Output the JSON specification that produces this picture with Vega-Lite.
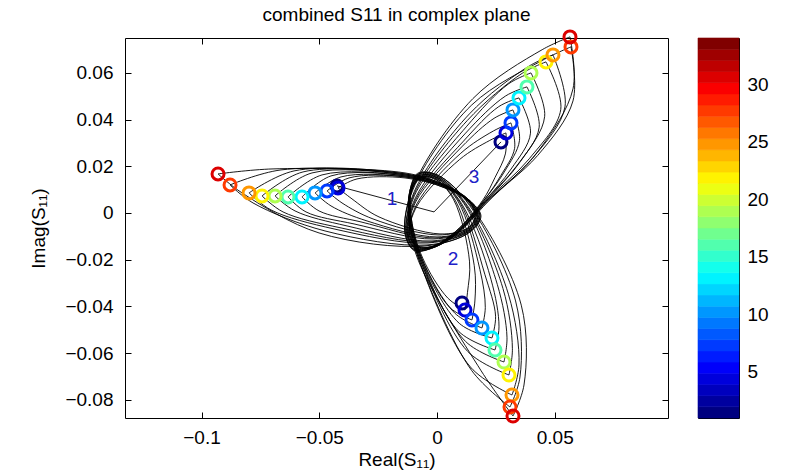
{
"$schema":"https://vega.github.io/schema/vega-lite/v6.json",
"padding":{"left":29,"top":5,"right":5,"bottom":5},
"config":{"font":"Liberation Sans","view":{"stroke":"#000","strokeWidth":1},
"axis":{"grid":false,"domain":false,"tickColor":"#000","labelColor":"#000","titleColor":"#000","labelFont":"Liberation Sans","titleFont":"Liberation Sans","labelFontSize":19,"titleFontSize":19,"titleFontWeight":"normal","tickWidth":1}},
"datasets":{
"loops":[
{"k":"1-4","i":0,"x":-0.04204,"y":0.01071},{"k":"1-4","i":1,"x":-0.03397,"y":0.01456},{"k":"1-4","i":2,"x":-0.01359,"y":0.01499},{"k":"1-4","i":3,"x":0.0034,"y":0.01071},{"k":"1-4","i":4,"x":0.01359,"y":0.00471},{"k":"1-4","i":5,"x":0.01613,"y":-0.00128},{"k":"1-4","i":6,"x":0.01316,"y":-0.00642},{"k":"1-4","i":7,"x":0.00127,"y":-0.00899},{"k":"1-4","i":8,"x":-0.02463,"y":-0.00171},{"k":"1-4","i":9,"x":-0.03609,"y":0.006},{"k":"1-4","i":10,"x":-0.04204,"y":0.01071},
{"k":"1-7","i":0,"x":-0.04671,"y":0.00942},{"k":"1-7","i":1,"x":-0.03736,"y":0.01499},{"k":"1-7","i":2,"x":-0.01359,"y":0.01542},{"k":"1-7","i":3,"x":0.0034,"y":0.01071},{"k":"1-7","i":4,"x":0.01359,"y":0.00471},{"k":"1-7","i":5,"x":0.01656,"y":-0.00128},{"k":"1-7","i":6,"x":0.01316,"y":-0.00642},{"k":"1-7","i":7,"x":0.00042,"y":-0.00942},{"k":"1-7","i":8,"x":-0.02717,"y":-0.00257},{"k":"1-7","i":9,"x":-0.04034,"y":0.00428},{"k":"1-7","i":10,"x":-0.04671,"y":0.00942},
{"k":"1-10","i":0,"x":-0.0518,"y":0.00857},{"k":"1-10","i":1,"x":-0.04076,"y":0.01542},{"k":"1-10","i":2,"x":-0.01359,"y":0.01542},{"k":"1-10","i":3,"x":0.0034,"y":0.01114},{"k":"1-10","i":4,"x":0.01359,"y":0.00471},{"k":"1-10","i":5,"x":0.01656,"y":-0.00128},{"k":"1-10","i":6,"x":0.01316,"y":-0.00685},{"k":"1-10","i":7,"x":0,"y":-0.01028},{"k":"1-10","i":8,"x":-0.02972,"y":-0.00343},{"k":"1-10","i":9,"x":-0.04501,"y":0.003},{"k":"1-10","i":10,"x":-0.0518,"y":0.00857},
{"k":"1-13","i":0,"x":-0.05732,"y":0.00685},{"k":"1-13","i":1,"x":-0.04501,"y":0.01585},{"k":"1-13","i":2,"x":-0.01359,"y":0.01585},{"k":"1-13","i":3,"x":0.0034,"y":0.01114},{"k":"1-13","i":4,"x":0.01359,"y":0.00514},{"k":"1-13","i":5,"x":0.01698,"y":-0.00128},{"k":"1-13","i":6,"x":0.01359,"y":-0.00685},{"k":"1-13","i":7,"x":-0.00085,"y":-0.01071},{"k":"1-13","i":8,"x":-0.03227,"y":-0.00385},{"k":"1-13","i":9,"x":-0.0501,"y":0.00086},{"k":"1-13","i":10,"x":-0.05732,"y":0.00685},
{"k":"1-16","i":0,"x":-0.06327,"y":0.00685},{"k":"1-16","i":1,"x":-0.04883,"y":0.01628},{"k":"1-16","i":2,"x":-0.01359,"y":0.01585},{"k":"1-16","i":3,"x":0.0034,"y":0.01114},{"k":"1-16","i":4,"x":0.01359,"y":0.00514},{"k":"1-16","i":5,"x":0.01741,"y":-0.00128},{"k":"1-16","i":6,"x":0.01359,"y":-0.00728},{"k":"1-16","i":7,"x":-0.0017,"y":-0.01114},{"k":"1-16","i":8,"x":-0.03524,"y":-0.00471},{"k":"1-16","i":9,"x":-0.05562,"y":0.00043},{"k":"1-16","i":10,"x":-0.06327,"y":0.00685},
{"k":"1-19","i":0,"x":-0.06879,"y":0.00728},{"k":"1-19","i":1,"x":-0.05308,"y":0.01713},{"k":"1-19","i":2,"x":-0.01359,"y":0.01628},{"k":"1-19","i":3,"x":0.0034,"y":0.01156},{"k":"1-19","i":4,"x":0.01359,"y":0.00514},{"k":"1-19","i":5,"x":0.01741,"y":-0.00128},{"k":"1-19","i":6,"x":0.01359,"y":-0.00728},{"k":"1-19","i":7,"x":-0.00212,"y":-0.01199},{"k":"1-19","i":8,"x":-0.03821,"y":-0.00557},{"k":"1-19","i":9,"x":-0.06029,"y":0.00086},{"k":"1-19","i":10,"x":-0.06879,"y":0.00728},
{"k":"1-22","i":0,"x":-0.07431,"y":0.00728},{"k":"1-22","i":1,"x":-0.0569,"y":0.01756},{"k":"1-22","i":2,"x":-0.01359,"y":0.01628},{"k":"1-22","i":3,"x":0.0034,"y":0.01156},{"k":"1-22","i":4,"x":0.01359,"y":0.00514},{"k":"1-22","i":5,"x":0.01783,"y":-0.00128},{"k":"1-22","i":6,"x":0.01359,"y":-0.00771},{"k":"1-22","i":7,"x":-0.00297,"y":-0.01242},{"k":"1-22","i":8,"x":-0.04076,"y":-0.00642},{"k":"1-22","i":9,"x":-0.06539,"y":0.00043},{"k":"1-22","i":10,"x":-0.07431,"y":0.00728},
{"k":"1-25","i":0,"x":-0.07982,"y":0.00857},{"k":"1-25","i":1,"x":-0.06072,"y":0.01799},{"k":"1-25","i":2,"x":-0.01359,"y":0.0167},{"k":"1-25","i":3,"x":0.0034,"y":0.01156},{"k":"1-25","i":4,"x":0.01359,"y":0.00557},{"k":"1-25","i":5,"x":0.01826,"y":-0.00128},{"k":"1-25","i":6,"x":0.01401,"y":-0.00771},{"k":"1-25","i":7,"x":-0.00382,"y":-0.01285},{"k":"1-25","i":8,"x":-0.04373,"y":-0.00685},{"k":"1-25","i":9,"x":-0.07048,"y":0.00128},{"k":"1-25","i":10,"x":-0.07982,"y":0.00857},
{"k":"1-28","i":0,"x":-0.08789,"y":0.01199},{"k":"1-28","i":1,"x":-0.06624,"y":0.01842},{"k":"1-28","i":2,"x":-0.01359,"y":0.0167},{"k":"1-28","i":3,"x":0.0034,"y":0.01199},{"k":"1-28","i":4,"x":0.01359,"y":0.00557},{"k":"1-28","i":5,"x":0.01826,"y":-0.00128},{"k":"1-28","i":6,"x":0.01401,"y":-0.00814},{"k":"1-28","i":7,"x":-0.00425,"y":-0.01371},{"k":"1-28","i":8,"x":-0.04756,"y":-0.00771},{"k":"1-28","i":9,"x":-0.07813,"y":0.00428},{"k":"1-28","i":10,"x":-0.08789,"y":0.01199},
{"k":"1-31","i":0,"x":-0.09299,"y":0.0167},{"k":"1-31","i":1,"x":-0.06963,"y":0.01885},{"k":"1-31","i":2,"x":-0.01359,"y":0.01713},{"k":"1-31","i":3,"x":0.0034,"y":0.01199},{"k":"1-31","i":4,"x":0.01359,"y":0.00557},{"k":"1-31","i":5,"x":0.01868,"y":-0.00128},{"k":"1-31","i":6,"x":0.01401,"y":-0.00814},{"k":"1-31","i":7,"x":-0.0051,"y":-0.01413},{"k":"1-31","i":8,"x":-0.0501,"y":-0.00857},{"k":"1-31","i":9,"x":-0.0828,"y":0.00857},{"k":"1-31","i":10,"x":-0.09299,"y":0.0167},
{"k":"2-4","i":0,"x":0.01189,"y":-0.04155},{"k":"2-4","i":1,"x":0.00454,"y":-0.03641},{"k":"2-4","i":2,"x":-0.00607,"y":-0.01936},{"k":"2-4","i":3,"x":-0.01091,"y":-0.0024},{"k":"2-4","i":4,"x":-0.01083,"y":0.00951},{"k":"2-4","i":5,"x":-0.00696,"y":0.01473},{"k":"2-4","i":6,"x":-0.00106,"y":0.01469},{"k":"2-4","i":7,"x":0.00709,"y":0.00561},{"k":"2-4","i":8,"x":0.0138,"y":-0.02064},{"k":"2-4","i":9,"x":0.01295,"y":-0.03401},{"k":"2-4","i":10,"x":0.01189,"y":-0.04155},
{"k":"2-7","i":0,"x":0.01486,"y":-0.04583},{"k":"2-7","i":1,"x":0.00539,"y":-0.04043},{"k":"2-7","i":2,"x":-0.00645,"y":-0.01957},{"k":"2-7","i":3,"x":-0.01091,"y":-0.0024},{"k":"2-7","i":4,"x":-0.01083,"y":0.00951},{"k":"2-7","i":5,"x":-0.00718,"y":0.01512},{"k":"2-7","i":6,"x":-0.00106,"y":0.01469},{"k":"2-7","i":7,"x":0.0079,"y":0.0051},{"k":"2-7","i":8,"x":0.0158,"y":-0.02244},{"k":"2-7","i":9,"x":0.01609,"y":-0.03769},{"k":"2-7","i":10,"x":0.01486,"y":-0.04583},
{"k":"2-10","i":0,"x":0.01911,"y":-0.04925},{"k":"2-10","i":1,"x":0.00769,"y":-0.04304},{"k":"2-10","i":2,"x":-0.00645,"y":-0.01957},{"k":"2-10","i":3,"x":-0.01125,"y":-0.00261},{"k":"2-10","i":4,"x":-0.01083,"y":0.00951},{"k":"2-10","i":5,"x":-0.00718,"y":0.01512},{"k":"2-10","i":6,"x":-0.00068,"y":0.0149},{"k":"2-10","i":7,"x":0.00883,"y":0.00514},{"k":"2-10","i":8,"x":0.01822,"y":-0.02424},{"k":"2-10","i":9,"x":0.02051,"y":-0.04052},{"k":"2-10","i":10,"x":0.01911,"y":-0.04925},
{"k":"2-13","i":0,"x":0.02335,"y":-0.05354},{"k":"2-13","i":1,"x":0.00947,"y":-0.04728},{"k":"2-13","i":2,"x":-0.00679,"y":-0.01979},{"k":"2-13","i":3,"x":-0.01125,"y":-0.00261},{"k":"2-13","i":4,"x":-0.01121,"y":0.00929},{"k":"2-13","i":5,"x":-0.00739,"y":0.01546},{"k":"2-13","i":6,"x":-0.00089,"y":0.01529},{"k":"2-13","i":7,"x":0.00964,"y":0.00463},{"k":"2-13","i":8,"x":0.0203,"y":-0.02625},{"k":"2-13","i":9,"x":0.02488,"y":-0.04424},{"k":"2-13","i":10,"x":0.02335,"y":-0.05354},
{"k":"2-16","i":0,"x":0.02463,"y":-0.05868},{"k":"2-16","i":1,"x":0.0093,"y":-0.0508},{"k":"2-16","i":2,"x":-0.00679,"y":-0.01979},{"k":"2-16","i":3,"x":-0.01125,"y":-0.00261},{"k":"2-16","i":4,"x":-0.01121,"y":0.00929},{"k":"2-16","i":5,"x":-0.0076,"y":0.01585},{"k":"2-16","i":6,"x":-0.00055,"y":0.0155},{"k":"2-16","i":7,"x":0.0104,"y":0.00407},{"k":"2-16","i":8,"x":0.02293,"y":-0.02844},{"k":"2-16","i":9,"x":0.02633,"y":-0.04878},{"k":"2-16","i":10,"x":0.02463,"y":-0.05868},
{"k":"2-19","i":0,"x":0.02845,"y":-0.06382},{"k":"2-19","i":1,"x":0.01214,"y":-0.05504},{"k":"2-19","i":2,"x":-0.00718,"y":-0.02},{"k":"2-19","i":3,"x":-0.01163,"y":-0.00283},{"k":"2-19","i":4,"x":-0.01121,"y":0.00929},{"k":"2-19","i":5,"x":-0.0076,"y":0.01585},{"k":"2-19","i":6,"x":-0.00055,"y":0.0155},{"k":"2-19","i":7,"x":0.01134,"y":0.00415},{"k":"2-19","i":8,"x":0.0256,"y":-0.03058},{"k":"2-19","i":9,"x":0.02972,"y":-0.0532},{"k":"2-19","i":10,"x":0.02845,"y":-0.06382},
{"k":"2-22","i":0,"x":0.03057,"y":-0.06938},{"k":"2-22","i":1,"x":0.01304,"y":-0.05932},{"k":"2-22","i":2,"x":-0.00718,"y":-0.02},{"k":"2-22","i":3,"x":-0.01163,"y":-0.00283},{"k":"2-22","i":4,"x":-0.01121,"y":0.00929},{"k":"2-22","i":5,"x":-0.00781,"y":0.01623},{"k":"2-22","i":6,"x":-0.00017,"y":0.01572},{"k":"2-22","i":7,"x":0.01214,"y":0.0036},{"k":"2-22","i":8,"x":0.02802,"y":-0.03238},{"k":"2-22","i":9,"x":0.03202,"y":-0.05816},{"k":"2-22","i":10,"x":0.03057,"y":-0.06938},
{"k":"2-25","i":0,"x":0.03185,"y":-0.07795},{"k":"2-25","i":1,"x":0.01418,"y":-0.06596},{"k":"2-25","i":2,"x":-0.00756,"y":-0.02022},{"k":"2-25","i":3,"x":-0.01163,"y":-0.00283},{"k":"2-25","i":4,"x":-0.01159,"y":0.00908},{"k":"2-25","i":5,"x":-0.00802,"y":0.01658},{"k":"2-25","i":6,"x":-0.00038,"y":0.0161},{"k":"2-25","i":7,"x":0.01295,"y":0.00308},{"k":"2-25","i":8,"x":0.03032,"y":-0.03478},{"k":"2-25","i":9,"x":0.03482,"y":-0.0651},{"k":"2-25","i":10,"x":0.03185,"y":-0.07795},
{"k":"2-28","i":0,"x":0.031,"y":-0.08309},{"k":"2-28","i":1,"x":0.01465,"y":-0.06737},{"k":"2-28","i":2,"x":-0.00756,"y":-0.02022},{"k":"2-28","i":3,"x":-0.01197,"y":-0.00304},{"k":"2-28","i":4,"x":-0.01159,"y":0.00908},{"k":"2-28","i":5,"x":-0.00802,"y":0.01658},{"k":"2-28","i":6,"x":0,"y":0.01632},{"k":"2-28","i":7,"x":0.01388,"y":0.00313},{"k":"2-28","i":8,"x":0.03337,"y":-0.03769},{"k":"2-28","i":9,"x":0.03524,"y":-0.07024},{"k":"2-28","i":10,"x":0.031,"y":-0.08309},
{"k":"2-31","i":0,"x":0.03227,"y":-0.08694},{"k":"2-31","i":1,"x":0.01877,"y":-0.06763},{"k":"2-31","i":2,"x":-0.0079,"y":-0.02043},{"k":"2-31","i":3,"x":-0.01197,"y":-0.00304},{"k":"2-31","i":4,"x":-0.01159,"y":0.00908},{"k":"2-31","i":5,"x":-0.00824,"y":0.01696},{"k":"2-31","i":6,"x":0,"y":0.01632},{"k":"2-31","i":7,"x":0.01469,"y":0.00261},{"k":"2-31","i":8,"x":0.03579,"y":-0.03949},{"k":"2-31","i":9,"x":0.03694,"y":-0.07367},{"k":"2-31","i":10,"x":0.03227,"y":-0.08694},
{"k":"3-4","i":0,"x":0.0293,"y":0.03426},{"k":"3-4","i":1,"x":0.02904,"y":0.02527},{"k":"3-4","i":2,"x":0.02463,"y":0.01516},{"k":"3-4","i":3,"x":0.0194,"y":0.0054},{"k":"3-4","i":4,"x":0.00794,"y":-0.00792},{"k":"3-4","i":5,"x":-0.002,"y":-0.01435},{"k":"3-4","i":6,"x":-0.00845,"y":-0.01392},{"k":"3-4","i":7,"x":-0.01168,"y":-0.00891},{"k":"3-4","i":8,"x":-0.00853,"y":0.00291},{"k":"3-4","i":9,"x":0.00964,"y":0.02291},{"k":"3-4","i":10,"x":0.02242,"y":0.03105},{"k":"3-4","i":11,"x":0.0293,"y":0.03426},
{"k":"3-7","i":0,"x":0.03142,"y":0.03855},{"k":"3-7","i":1,"x":0.03295,"y":0.02763},{"k":"3-7","i":2,"x":0.02713,"y":0.01606},{"k":"3-7","i":3,"x":0.01979,"y":0.00523},{"k":"3-7","i":4,"x":0.00794,"y":-0.00792},{"k":"3-7","i":5,"x":-0.002,"y":-0.01435},{"k":"3-7","i":6,"x":-0.00866,"y":-0.01431},{"k":"3-7","i":7,"x":-0.01168,"y":-0.00891},{"k":"3-7","i":8,"x":-0.00853,"y":0.0039},{"k":"3-7","i":9,"x":0.01011,"y":0.02557},{"k":"3-7","i":10,"x":0.02399,"y":0.03512},{"k":"3-7","i":11,"x":0.03142,"y":0.03855},
{"k":"3-10","i":0,"x":0.03227,"y":0.04411},{"k":"3-10","i":1,"x":0.03503,"y":0.03105},{"k":"3-10","i":2,"x":0.02858,"y":0.01756},{"k":"3-10","i":3,"x":0.01979,"y":0.00523},{"k":"3-10","i":4,"x":0.00832,"y":-0.00809},{"k":"3-10","i":5,"x":-0.002,"y":-0.01435},{"k":"3-10","i":6,"x":-0.00866,"y":-0.01431},{"k":"3-10","i":7,"x":-0.01206,"y":-0.00869},{"k":"3-10","i":8,"x":-0.00909,"y":0.00467},{"k":"3-10","i":9,"x":0.01049,"y":0.02827},{"k":"3-10","i":10,"x":0.02424,"y":0.04052},{"k":"3-10","i":11,"x":0.03227,"y":0.04411},
{"k":"3-13","i":0,"x":0.03482,"y":0.04925},{"k":"3-13","i":1,"x":0.0397,"y":0.03414},{"k":"3-13","i":2,"x":0.03146,"y":0.0188},{"k":"3-13","i":3,"x":0.02017,"y":0.00501},{"k":"3-13","i":4,"x":0.00832,"y":-0.00809},{"k":"3-13","i":5,"x":-0.00161,"y":-0.01452},{"k":"3-13","i":6,"x":-0.00883,"y":-0.01469},{"k":"3-13","i":7,"x":-0.01223,"y":-0.00908},{"k":"3-13","i":8,"x":-0.00909,"y":0.00565},{"k":"3-13","i":9,"x":0.01125,"y":0.03075},{"k":"3-13","i":10,"x":0.02624,"y":0.04553},{"k":"3-13","i":11,"x":0.03482,"y":0.04925},
{"k":"3-16","i":0,"x":0.03821,"y":0.05397},{"k":"3-16","i":1,"x":0.04339,"y":0.03671},{"k":"3-16","i":2,"x":0.03367,"y":0.01992},{"k":"3-16","i":3,"x":0.02017,"y":0.00501},{"k":"3-16","i":4,"x":0.00832,"y":-0.00809},{"k":"3-16","i":5,"x":-0.00161,"y":-0.01452},{"k":"3-16","i":6,"x":-0.00904,"y":-0.01508},{"k":"3-16","i":7,"x":-0.01257,"y":-0.00891},{"k":"3-16","i":8,"x":-0.00909,"y":0.0066},{"k":"3-16","i":9,"x":0.01185,"y":0.03384},{"k":"3-16","i":10,"x":0.02904,"y":0.05002},{"k":"3-16","i":11,"x":0.03821,"y":0.05397},
{"k":"3-19","i":0,"x":0.03991,"y":0.05996},{"k":"3-19","i":1,"x":0.04573,"y":0.04137},{"k":"3-19","i":2,"x":0.03537,"y":0.02193},{"k":"3-19","i":3,"x":0.02055,"y":0.0048},{"k":"3-19","i":4,"x":0.0087,"y":-0.00831},{"k":"3-19","i":5,"x":-0.00161,"y":-0.01452},{"k":"3-19","i":6,"x":-0.00904,"y":-0.01508},{"k":"3-19","i":7,"x":-0.01257,"y":-0.00891},{"k":"3-19","i":8,"x":-0.0096,"y":0.00737},{"k":"3-19","i":9,"x":0.01244,"y":0.03688},{"k":"3-19","i":10,"x":0.03036,"y":0.05525},{"k":"3-19","i":11,"x":0.03991,"y":0.05996},
{"k":"3-22","i":0,"x":0.04628,"y":0.06467},{"k":"3-22","i":1,"x":0.05257,"y":0.04437},{"k":"3-22","i":2,"x":0.03919,"y":0.02321},{"k":"3-22","i":3,"x":0.02055,"y":0.0048},{"k":"3-22","i":4,"x":0.0087,"y":-0.00831},{"k":"3-22","i":5,"x":-0.00161,"y":-0.01452},{"k":"3-22","i":6,"x":-0.00921,"y":-0.01546},{"k":"3-22","i":7,"x":-0.01295,"y":-0.00869},{"k":"3-22","i":8,"x":-0.0096,"y":0.00831},{"k":"3-22","i":9,"x":0.01282,"y":0.03953},{"k":"3-22","i":10,"x":0.03618,"y":0.05979},{"k":"3-22","i":11,"x":0.04628,"y":0.06467},
{"k":"3-25","i":0,"x":0.04925,"y":0.06767},{"k":"3-25","i":1,"x":0.05435,"y":0.0454},{"k":"3-25","i":2,"x":0.04063,"y":0.02347},{"k":"3-25","i":3,"x":0.02089,"y":0.00463},{"k":"3-25","i":4,"x":0.0087,"y":-0.00831},{"k":"3-25","i":5,"x":-0.00123,"y":-0.01473},{"k":"3-25","i":6,"x":-0.00943,"y":-0.01585},{"k":"3-25","i":7,"x":-0.01316,"y":-0.00908},{"k":"3-25","i":8,"x":-0.0096,"y":0.00925},{"k":"3-25","i":9,"x":0.0138,"y":0.04244},{"k":"3-25","i":10,"x":0.0386,"y":0.06257},{"k":"3-25","i":11,"x":0.04925,"y":0.06767},
{"k":"3-28","i":0,"x":0.0569,"y":0.0711},{"k":"3-28","i":1,"x":0.05775,"y":0.04797},{"k":"3-28","i":2,"x":0.04272,"y":0.02458},{"k":"3-28","i":3,"x":0.02089,"y":0.00463},{"k":"3-28","i":4,"x":0.00904,"y":-0.00848},{"k":"3-28","i":5,"x":-0.00123,"y":-0.01473},{"k":"3-28","i":6,"x":-0.00943,"y":-0.01585},{"k":"3-28","i":7,"x":-0.01354,"y":-0.00891},{"k":"3-28","i":8,"x":-0.01019,"y":0.01002},{"k":"3-28","i":9,"x":0.01478,"y":0.04626},{"k":"3-28","i":10,"x":0.04569,"y":0.06583},{"k":"3-28","i":11,"x":0.0569,"y":0.0711},
{"k":"3-31","i":0,"x":0.05647,"y":0.07538},{"k":"3-31","i":1,"x":0.05775,"y":0.05311},{"k":"3-31","i":2,"x":0.04327,"y":0.02685},{"k":"3-31","i":3,"x":0.02127,"y":0.00441},{"k":"3-31","i":4,"x":0.00904,"y":-0.00848},{"k":"3-31","i":5,"x":-0.00123,"y":-0.01473},{"k":"3-31","i":6,"x":-0.0096,"y":-0.01619},{"k":"3-31","i":7,"x":-0.01354,"y":-0.00891},{"k":"3-31","i":8,"x":-0.01019,"y":0.01101},{"k":"3-31","i":9,"x":0.0152,"y":0.04891},{"k":"3-31","i":10,"x":0.04467,"y":0.0699},{"k":"3-31","i":11,"x":0.05647,"y":0.07538}
],
"v1":[
{"k":"1-1","i":0,"x":-0.04246,"y":0.01156},{"k":"1-1","i":1,"x":-0.00127,"y":0.00043},
{"k":"3-1","i":0,"x":-0.00127,"y":0.00043},{"k":"3-1","i":1,"x":0.02717,"y":0.03041}
],
"circles":[
{"p":1,"v":1,"x":-0.04246,"y":0.01156},{"p":1,"v":4,"x":-0.04204,"y":0.01071},{"p":1,"v":7,"x":-0.04671,"y":0.00942},{"p":1,"v":10,"x":-0.0518,"y":0.00857},{"p":1,"v":13,"x":-0.05732,"y":0.00685},{"p":1,"v":16,"x":-0.06327,"y":0.00685},{"p":1,"v":19,"x":-0.06879,"y":0.00728},{"p":1,"v":22,"x":-0.07431,"y":0.00728},{"p":1,"v":25,"x":-0.07982,"y":0.00857},{"p":1,"v":28,"x":-0.08789,"y":0.01199},{"p":1,"v":31,"x":-0.09299,"y":0.0167},
{"p":2,"v":1,"x":0.01062,"y":-0.03855},{"p":2,"v":4,"x":0.01189,"y":-0.04155},{"p":2,"v":7,"x":0.01486,"y":-0.04583},{"p":2,"v":10,"x":0.01911,"y":-0.04925},{"p":2,"v":13,"x":0.02335,"y":-0.05354},{"p":2,"v":16,"x":0.02463,"y":-0.05868},{"p":2,"v":19,"x":0.02845,"y":-0.06382},{"p":2,"v":22,"x":0.03057,"y":-0.06938},{"p":2,"v":25,"x":0.03185,"y":-0.07795},{"p":2,"v":28,"x":0.031,"y":-0.08309},{"p":2,"v":31,"x":0.03227,"y":-0.08694},
{"p":3,"v":1,"x":0.02717,"y":0.03041},{"p":3,"v":4,"x":0.0293,"y":0.03426},{"p":3,"v":7,"x":0.03142,"y":0.03855},{"p":3,"v":10,"x":0.03227,"y":0.04411},{"p":3,"v":13,"x":0.03482,"y":0.04925},{"p":3,"v":16,"x":0.03821,"y":0.05397},{"p":3,"v":19,"x":0.03991,"y":0.05996},{"p":3,"v":22,"x":0.04628,"y":0.06467},{"p":3,"v":25,"x":0.04925,"y":0.06767},{"p":3,"v":28,"x":0.0569,"y":0.0711},{"p":3,"v":31,"x":0.05647,"y":0.07538}
],
"labels":[{"t":"1","x":-0.0191,"y":0.006},{"t":"2","x":0.0068,"y":-0.0197},{"t":"3","x":0.0157,"y":0.0154}],
"cbar":[
{"c":1,"lo":1,"hi":1.9706},{"c":2,"lo":1.9706,"hi":2.9412},{"c":3,"lo":2.9412,"hi":3.9118},{"c":4,"lo":3.9118,"hi":4.8824},{"c":5,"lo":4.8824,"hi":5.8529},{"c":6,"lo":5.8529,"hi":6.8235},{"c":7,"lo":6.8235,"hi":7.7941},{"c":8,"lo":7.7941,"hi":8.7647},{"c":9,"lo":8.7647,"hi":9.7353},{"c":10,"lo":9.7353,"hi":10.7059},{"c":11,"lo":10.7059,"hi":11.6765},{"c":12,"lo":11.6765,"hi":12.6471},{"c":13,"lo":12.6471,"hi":13.6176},{"c":14,"lo":13.6176,"hi":14.5882},{"c":15,"lo":14.5882,"hi":15.5588},{"c":16,"lo":15.5588,"hi":16.5294},{"c":17,"lo":16.5294,"hi":17.5},{"c":18,"lo":17.5,"hi":18.4706},{"c":19,"lo":18.4706,"hi":19.4412},{"c":20,"lo":19.4412,"hi":20.4118},{"c":21,"lo":20.4118,"hi":21.3824},{"c":22,"lo":21.3824,"hi":22.3529},{"c":23,"lo":22.3529,"hi":23.3235},{"c":24,"lo":23.3235,"hi":24.2941},{"c":25,"lo":24.2941,"hi":25.2647},{"c":26,"lo":25.2647,"hi":26.2353},{"c":27,"lo":26.2353,"hi":27.2059},{"c":28,"lo":27.2059,"hi":28.1765},{"c":29,"lo":28.1765,"hi":29.1471},{"c":30,"lo":29.1471,"hi":30.1176},{"c":31,"lo":30.1176,"hi":31.0882},{"c":32,"lo":31.0882,"hi":32.0588},{"c":33,"lo":32.0588,"hi":33.0294},{"c":34,"lo":33.0294,"hi":34}
]},
"spacing":28,
"hconcat":[
{"width":543,"height":380,
"title":{"text":"combined S11 in complex plane","fontSize":19,"fontWeight":"normal","font":"Liberation Sans","color":"#000","offset":0},
"layer":[
{"data":{"name":"loops"},"mark":{"type":"line","interpolate":"catmull-rom","color":"#000","strokeWidth":0.9},
"encoding":{
"x":{"field":"x","type":"quantitative","scale":{"domain":[-0.1325,0.0981],"nice":false,"zero":false},"axis":{"values":[-0.1,-0.05,0,0.05],"format":"~g","title":"Real(S₁₁)","tickSize":-6,"labelPadding":16,"titlePadding":3}},
"y":{"field":"y","type":"quantitative","scale":{"domain":[-0.0878,0.0749],"nice":false,"zero":false},"axis":{"values":[-0.08,-0.06,-0.04,-0.02,0,0.02,0.04,0.06],"format":"~g","title":"Imag(S₁₁)","tickSize":-6,"labelPadding":18,"titlePadding":16}},
"detail":{"field":"k"},"order":{"field":"i","type":"quantitative"}}},
{"data":{"name":"v1"},"mark":{"type":"line","color":"#000","strokeWidth":0.9},
"encoding":{
"x":{"field":"x","type":"quantitative","scale":{"domain":[-0.1325,0.0981],"nice":false,"zero":false},"axis":{"orient":"top","values":[-0.1,-0.05,0,0.05],"labels":false,"title":null,"tickSize":-6,"labelPadding":0,"minExtent":0}},
"y":{"field":"y","type":"quantitative","scale":{"domain":[-0.0878,0.0749],"nice":false,"zero":false},"axis":{"orient":"right","values":[-0.08,-0.06,-0.04,-0.02,0,0.02,0.04,0.06],"labels":false,"title":null,"tickSize":-6,"labelPadding":0,"minExtent":0}},
"detail":{"field":"k"},"order":{"field":"i","type":"quantitative"}}},
{"data":{"name":"circles"},"mark":{"type":"point","shape":"circle","filled":false,"size":144,"strokeWidth":3,"opacity":1},
"encoding":{
"x":{"field":"x","type":"quantitative","scale":{"domain":[-0.1325,0.0981],"nice":false,"zero":false},"axis":null},
"y":{"field":"y","type":"quantitative","scale":{"domain":[-0.0878,0.0749],"nice":false,"zero":false},"axis":null},
"color":{"field":"v","type":"quantitative","legend":null,"scale":{"type":"linear","domain":[1,5.125,13.375,21.625,29.875,34],"range":["#000080","#0000ff","#00ffff","#ffff00","#ff0000","#800000"],"interpolate":"rgb","zero":false,"nice":false}}}},
{"data":{"name":"labels"},"mark":{"type":"text","fontSize":19,"font":"Liberation Sans","color":"#2020c8","align":"center","baseline":"middle"},
"encoding":{
"x":{"field":"x","type":"quantitative","scale":{"domain":[-0.1325,0.0981],"nice":false,"zero":false},"axis":null},
"y":{"field":"y","type":"quantitative","scale":{"domain":[-0.0878,0.0749],"nice":false,"zero":false},"axis":null},
"text":{"field":"t"}}}
],
"resolve":{"axis":{"x":"independent","y":"independent"}}
},
{"width":41,"height":380,"data":{"name":"cbar"},"mark":{"type":"rect","strokeWidth":0.6},
"encoding":{
"y":{"field":"lo","type":"quantitative","scale":{"domain":[1,34],"nice":false,"zero":false},"axis":{"orient":"right","values":[5,10,15,20,25,30],"title":null,"tickSize":-4,"labelPadding":12}},
"y2":{"field":"hi"},
"color":{"field":"c","type":"quantitative","legend":null,"scale":{"type":"linear","domain":[1,5.125,13.375,21.625,29.875,34],"range":["#000080","#0000ff","#00ffff","#ffff00","#ff0000","#800000"],"interpolate":"rgb","zero":false,"nice":false}},
"stroke":{"field":"c","type":"quantitative","legend":null,"scale":{"type":"linear","domain":[1,5.125,13.375,21.625,29.875,34],"range":["#000080","#0000ff","#00ffff","#ffff00","#ff0000","#800000"],"interpolate":"rgb","zero":false,"nice":false}}}}
]
}
